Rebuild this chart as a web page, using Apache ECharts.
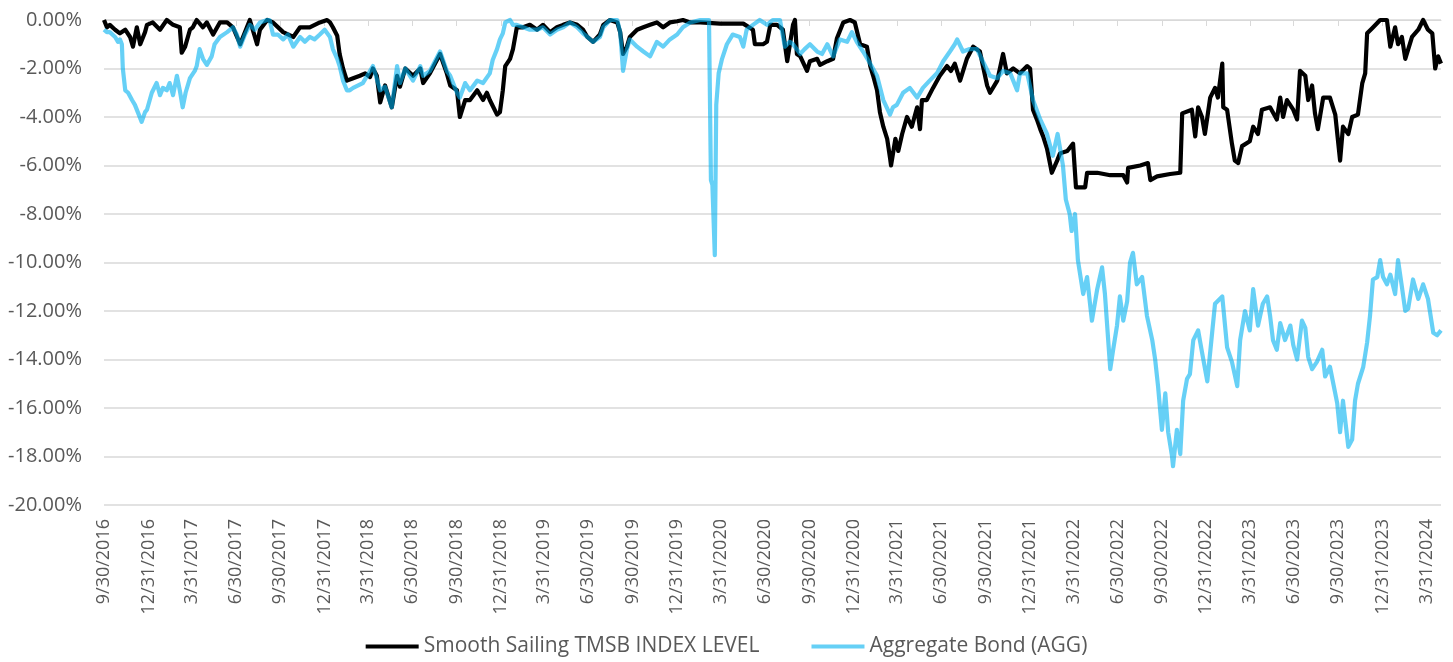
<!DOCTYPE html>
<html>
<head>
<meta charset="utf-8">
<script src="https://cdn.jsdelivr.net/npm/echarts@6/dist/echarts.min.js"></script>
<style>
html,body{margin:0;padding:0;background:#ffffff;}
#chart{width:1453px;height:662px;}
</style>
</head>
<body>
<div id="chart"></div>
<script>
// ---------------- DATA ----------------
const seriesNames = ['Smooth Sailing TMSB INDEX LEVEL', 'Aggregate Bond (AGG)'];

const quarterLabels = [
  '9/30/2016','12/31/2016','3/31/2017','6/30/2017','9/30/2017','12/31/2017',
  '3/31/2018','6/30/2018','9/30/2018','12/31/2018','3/31/2019','6/30/2019',
  '9/30/2019','12/31/2019','3/31/2020','6/30/2020','9/30/2020','12/31/2020',
  '3/31/2021','6/30/2021','9/30/2021','12/31/2021','3/31/2022','6/30/2022',
  '9/30/2022','12/31/2022','3/31/2023','6/30/2023','9/30/2023','12/31/2023',
  '3/31/2024'
];

const axisStart = '9/30/2016';
const axisEnd = '4/30/2024';

// drawdown in percent
const tmsbPoints = [
  ['2016-09-30',0.0],['2016-10-06',-0.3],['2016-10-12',-0.2],['2016-10-23',-0.4],['2016-11-02',-0.55],
  ['2016-11-13',-0.4],['2016-11-23',-0.7],['2016-11-29',-1.1],['2016-12-07',-0.3],['2016-12-14',-1.0],
  ['2016-12-24',-0.5],['2016-12-28',-0.2],['2017-01-09',-0.1],['2017-01-24',-0.4],['2017-02-07',0.0],
  ['2017-02-20',-0.2],['2017-03-06',-0.3],['2017-03-10',-1.35],['2017-03-17',-1.1],['2017-03-27',-0.4],
  ['2017-04-02',-0.3],['2017-04-10',0.0],['2017-04-23',-0.3],['2017-05-01',-0.1],['2017-05-14',-0.6],
  ['2017-05-28',-0.1],['2017-06-12',-0.1],['2017-06-24',-0.3],['2017-07-09',-1.0],['2017-07-23',-0.3],
  ['2017-07-29',0.0],['2017-08-13',-1.0],['2017-08-19',-0.4],['2017-09-03',0.0],['2017-09-15',-0.1],
  ['2017-10-06',-0.5],['2017-10-27',-0.7],['2017-11-10',-0.3],['2017-11-30',-0.3],['2017-12-21',-0.1],
  ['2018-01-05',0.0],['2018-01-11',-0.1],['2018-01-17',-0.3],['2018-01-26',-0.65],['2018-01-31',-1.4],
  ['2018-02-07',-2.0],['2018-02-15',-2.5],['2018-02-28',-2.4],['2018-03-14',-2.3],['2018-03-25',-2.2],
  ['2018-04-04',-2.35],['2018-04-10',-2.0],['2018-04-18',-2.3],['2018-04-25',-3.4],['2018-05-05',-2.7],
  ['2018-05-19',-3.6],['2018-05-30',-2.3],['2018-06-05',-2.75],['2018-06-16',-2.0],['2018-07-02',-2.3],
  ['2018-07-17',-2.0],['2018-07-23',-2.6],['2018-08-06',-2.2],['2018-08-27',-1.4],['2018-09-10',-2.2],
  ['2018-09-17',-2.7],['2018-10-01',-2.9],['2018-10-07',-4.0],['2018-10-18',-3.3],['2018-10-28',-3.3],
  ['2018-11-12',-2.9],['2018-11-24',-3.3],['2018-12-02',-3.0],['2018-12-08',-3.3],['2018-12-23',-3.9],
  ['2018-12-29',-3.8],['2019-01-04',-2.9],['2019-01-09',-1.9],['2019-01-19',-1.6],['2019-01-25',-1.2],
  ['2019-02-02',-0.3],['2019-02-15',-0.3],['2019-03-01',-0.2],['2019-03-16',-0.4],['2019-03-28',-0.2],
  ['2019-04-12',-0.5],['2019-04-26',-0.3],['2019-05-09',-0.2],['2019-05-23',-0.1],['2019-06-07',-0.2],
  ['2019-06-19',-0.4],['2019-06-28',-0.7],['2019-07-10',-0.9],['2019-07-24',-0.6],['2019-07-31',-0.2],
  ['2019-08-14',0.0],['2019-08-29',-0.1],['2019-09-04',-0.5],['2019-09-10',-1.4],['2019-09-18',-1.1],
  ['2019-09-24',-0.7],['2019-10-09',-0.4],['2019-10-22',-0.3],['2019-11-05',-0.2],['2019-11-19',-0.1],
  ['2019-12-02',-0.3],['2019-12-16',-0.1],['2019-12-31',-0.05],['2020-01-12',0.0],['2020-01-27',-0.1],
  ['2020-02-17',-0.1],['2020-03-29',-0.15],['2020-05-16',-0.15],['2020-06-05',-0.4],['2020-06-09',-1.0],
  ['2020-06-26',-1.0],['2020-07-04',-0.9],['2020-07-11',-0.2],['2020-07-25',-0.2],['2020-08-06',-0.4],
  ['2020-08-15',-1.7],['2020-08-27',-0.2],['2020-08-31',0.0],['2020-09-04',-1.4],['2020-09-11',-1.5],
  ['2020-09-25',-2.1],['2020-10-01',-1.7],['2020-10-16',-1.6],['2020-10-22',-1.85],['2020-11-06',-1.7],
  ['2020-11-18',-1.6],['2020-11-26',-0.75],['2020-12-09',-0.1],['2020-12-23',0.0],['2021-01-02',-0.1],
  ['2021-01-13',-1.0],['2021-01-27',-1.1],['2021-02-03',-1.9],['2021-02-09',-2.3],['2021-02-17',-2.9],
  ['2021-02-23',-3.8],['2021-03-02',-4.4],['2021-03-10',-4.9],['2021-03-16',-5.7],['2021-03-18',-6.0],
  ['2021-03-27',-4.9],['2021-04-02',-5.4],['2021-04-10',-4.7],['2021-04-20',-4.0],['2021-04-30',-4.4],
  ['2021-05-11',-3.6],['2021-05-17',-4.5],['2021-05-21',-3.3],['2021-05-31',-3.3],['2021-06-13',-2.8],
  ['2021-06-27',-2.3],['2021-07-12',-1.9],['2021-07-20',-2.1],['2021-07-28',-1.8],['2021-08-08',-2.5],
  ['2021-08-22',-1.6],['2021-09-04',-1.1],['2021-09-18',-1.3],['2021-10-03',-2.7],['2021-10-09',-3.0],
  ['2021-10-24',-2.5],['2021-11-05',-1.4],['2021-11-13',-2.2],['2021-11-26',-2.0],['2021-12-10',-2.2],
  ['2021-12-25',-1.9],['2021-12-31',-2.0],['2022-01-06',-3.7],['2022-01-14',-4.1],['2022-01-21',-4.5],
  ['2022-01-27',-4.8],['2022-02-04',-5.3],['2022-02-14',-6.3],['2022-02-25',-5.8],['2022-03-03',-5.5],
  ['2022-03-18',-5.4],['2022-03-30',-5.1],['2022-04-05',-6.9],['2022-04-24',-6.9],['2022-04-28',-6.3],
  ['2022-05-19',-6.3],['2022-06-15',-6.4],['2022-07-12',-6.4],['2022-07-20',-6.7],['2022-07-22',-6.1],
  ['2022-08-16',-6.0],['2022-09-01',-5.9],['2022-09-06',-6.6],['2022-09-20',-6.45],['2022-10-17',-6.35],
  ['2022-11-07',-6.3],['2022-11-11',-3.85],['2022-12-01',-3.7],['2022-12-08',-4.8],['2022-12-14',-3.6],
  ['2022-12-22',-4.0],['2022-12-28',-4.7],['2023-01-08',-3.2],['2023-01-18',-2.8],['2023-01-24',-3.2],
  ['2023-02-02',-1.8],['2023-02-04',-3.6],['2023-02-12',-3.7],['2023-02-22',-5.1],['2023-02-28',-5.8],
  ['2023-03-07',-5.9],['2023-03-15',-5.2],['2023-03-31',-5.0],['2023-04-07',-4.4],['2023-04-17',-4.7],
  ['2023-04-25',-3.7],['2023-05-12',-3.6],['2023-05-26',-4.1],['2023-06-02',-3.2],['2023-06-08',-4.0],
  ['2023-06-16',-3.3],['2023-06-29',-3.7],['2023-07-07',-4.1],['2023-07-13',-2.1],['2023-07-24',-2.3],
  ['2023-07-30',-3.3],['2023-08-07',-2.7],['2023-08-13',-3.85],['2023-08-19',-4.5],['2023-08-30',-3.2],
  ['2023-09-13',-3.2],['2023-09-24',-3.9],['2023-10-04',-5.8],['2023-10-10',-4.4],['2023-10-21',-4.7],
  ['2023-10-29',-4.0],['2023-11-10',-3.9],['2023-11-19',-2.6],['2023-11-25',-2.2],['2023-11-29',-0.55],
  ['2023-12-09',-0.35],['2023-12-26',0.0],['2024-01-09',0.0],['2024-01-16',-1.1],['2024-01-26',-0.3],
  ['2024-02-01',-1.0],['2024-02-09',-0.7],['2024-02-16',-1.6],['2024-03-01',-0.7],['2024-03-14',-0.4],
  ['2024-03-24',0.0],['2024-04-03',-0.4],['2024-04-12',-0.55],['2024-04-18',-2.0],['2024-04-24',-1.5],
  ['2024-04-30',-1.8]
];

const aggPoints = [
  ['2016-09-30',-0.4],['2016-10-06',-0.5],['2016-10-12',-0.5],['2016-10-23',-0.7],['2016-10-29',-0.9],
  ['2016-11-02',-0.8],['2016-11-06',-1.0],['2016-11-08',-2.0],['2016-11-13',-2.9],['2016-11-19',-3.0],
  ['2016-11-27',-3.3],['2016-12-03',-3.5],['2016-12-09',-3.8],['2016-12-17',-4.2],['2016-12-24',-3.8],
  ['2016-12-28',-3.7],['2017-01-07',-3.0],['2017-01-17',-2.6],['2017-01-24',-3.1],['2017-01-30',-2.8],
  ['2017-02-07',-2.9],['2017-02-13',-2.6],['2017-02-20',-3.1],['2017-02-28',-2.3],['2017-03-06',-2.9],
  ['2017-03-12',-3.6],['2017-03-18',-3.0],['2017-03-27',-2.4],['2017-04-06',-2.1],['2017-04-10',-1.9],
  ['2017-04-16',-1.2],['2017-04-23',-1.6],['2017-05-01',-1.85],['2017-05-11',-1.5],['2017-05-17',-1.0],
  ['2017-05-28',-0.7],['2017-06-12',-0.5],['2017-06-24',-0.3],['2017-07-02',-0.6],['2017-07-09',-1.1],
  ['2017-07-19',-0.6],['2017-07-29',-0.2],['2017-08-08',-0.4],['2017-08-19',-0.1],['2017-09-03',0.0],
  ['2017-09-08',0.0],['2017-09-15',-0.6],['2017-09-25',-0.6],['2017-10-06',-0.8],['2017-10-16',-0.6],
  ['2017-10-27',-1.1],['2017-11-10',-0.7],['2017-11-20',-0.9],['2017-11-30',-0.7],['2017-12-10',-0.8],
  ['2017-12-21',-0.6],['2017-12-31',-0.4],['2018-01-11',-0.7],['2018-01-17',-1.2],['2018-01-26',-1.6],
  ['2018-01-31',-1.9],['2018-02-07',-2.5],['2018-02-15',-2.9],['2018-02-21',-2.9],['2018-02-28',-2.8],
  ['2018-03-20',-2.6],['2018-04-10',-1.9],['2018-04-25',-2.9],['2018-05-05',-2.75],['2018-05-19',-3.6],
  ['2018-05-30',-1.9],['2018-06-05',-2.6],['2018-06-16',-2.0],['2018-07-02',-2.5],['2018-07-17',-1.9],
  ['2018-07-23',-2.3],['2018-08-06',-2.1],['2018-08-27',-1.3],['2018-09-10',-2.1],['2018-09-17',-2.3],
  ['2018-10-01',-3.0],['2018-10-07',-3.2],['2018-10-18',-2.6],['2018-10-28',-2.9],['2018-11-12',-2.5],
  ['2018-11-24',-2.6],['2018-12-08',-2.2],['2018-12-14',-1.65],['2018-12-23',-1.2],['2018-12-29',-0.8],
  ['2019-01-04',-0.55],['2019-01-09',-0.1],['2019-01-19',0.0],['2019-01-25',-0.2],['2019-02-02',-0.2],
  ['2019-02-15',-0.3],['2019-03-01',-0.4],['2019-03-16',-0.4],['2019-03-28',-0.3],['2019-04-12',-0.6],
  ['2019-04-26',-0.4],['2019-05-09',-0.3],['2019-05-23',-0.1],['2019-06-07',-0.3],['2019-06-19',-0.55],
  ['2019-06-28',-0.7],['2019-07-10',-0.9],['2019-07-24',-0.7],['2019-07-31',-0.3],['2019-08-14',0.0],
  ['2019-08-29',0.0],['2019-09-04',-0.5],['2019-09-10',-2.1],['2019-09-18',-1.2],['2019-09-24',-0.8],
  ['2019-10-09',-1.1],['2019-10-22',-1.3],['2019-11-05',-1.5],['2019-11-19',-0.9],['2019-12-02',-1.1],
  ['2019-12-16',-0.8],['2019-12-31',-0.6],['2020-01-12',-0.3],['2020-01-27',-0.1],['2020-02-17',0.0],
  ['2020-03-06',0.0],['2020-03-10',-6.6],['2020-03-13',-6.8],['2020-03-18',-9.7],['2020-03-21',-3.5],
  ['2020-03-26',-2.2],['2020-04-02',-1.6],['2020-04-12',-1.0],['2020-04-24',-0.6],['2020-05-09',-0.7],
  ['2020-05-16',-1.1],['2020-05-23',-0.4],['2020-06-05',-0.2],['2020-06-19',0.0],['2020-07-04',-0.2],
  ['2020-07-16',0.0],['2020-07-31',0.0],['2020-08-10',-1.1],['2020-08-20',-0.9],['2020-08-27',-1.0],
  ['2020-09-11',-1.4],['2020-09-20',-1.2],['2020-10-01',-1.0],['2020-10-16',-1.3],['2020-10-26',-1.4],
  ['2020-11-06',-1.0],['2020-11-18',-1.5],['2020-12-02',-0.8],['2020-12-17',-0.9],['2020-12-27',-0.5],
  ['2021-01-06',-0.9],['2021-01-19',-1.3],['2021-02-03',-1.8],['2021-02-17',-2.3],['2021-03-02',-3.3],
  ['2021-03-16',-3.9],['2021-03-22',-3.6],['2021-03-30',-3.5],['2021-04-12',-3.0],['2021-04-26',-2.8],
  ['2021-05-11',-3.2],['2021-05-23',-2.8],['2021-06-06',-2.5],['2021-06-21',-2.2],['2021-07-04',-1.7],
  ['2021-07-18',-1.3],['2021-07-28',-1.0],['2021-08-02',-0.8],['2021-08-14',-1.3],['2021-08-28',-1.2],
  ['2021-09-12',-1.2],['2021-09-24',-1.7],['2021-10-09',-2.3],['2021-10-24',-2.4],['2021-11-05',-2.1],
  ['2021-11-20',-2.2],['2021-12-04',-2.9],['2021-12-10',-2.2],['2021-12-25',-2.2],['2022-01-06',-3.3],
  ['2022-01-21',-4.1],['2022-02-04',-4.7],['2022-02-16',-5.6],['2022-02-26',-4.7],['2022-03-09',-6.0],
  ['2022-03-15',-7.4],['2022-03-23',-8.0],['2022-03-27',-8.7],['2022-04-03',-8.0],['2022-04-09',-9.9],
  ['2022-04-20',-11.3],['2022-04-28',-10.6],['2022-05-08',-12.4],['2022-05-19',-11.1],['2022-05-29',-10.2],
  ['2022-06-04',-11.3],['2022-06-15',-14.4],['2022-06-21',-13.6],['2022-06-29',-12.6],['2022-07-05',-11.4],
  ['2022-07-12',-12.4],['2022-07-20',-11.6],['2022-07-26',-10.0],['2022-08-01',-9.6],['2022-08-09',-10.9],
  ['2022-08-20',-10.6],['2022-08-30',-12.2],['2022-09-10',-13.2],['2022-09-16',-14.0],['2022-09-22',-15.1],
  ['2022-09-30',-16.9],['2022-10-07',-15.4],['2022-10-13',-17.0],['2022-10-21',-18.0],['2022-10-23',-18.4],
  ['2022-10-31',-16.9],['2022-11-07',-17.9],['2022-11-13',-15.7],['2022-11-21',-14.8],['2022-11-27',-14.6],
  ['2022-12-04',-13.2],['2022-12-14',-12.8],['2022-12-22',-13.7],['2023-01-02',-14.9],['2023-01-12',-12.9],
  ['2023-01-18',-11.7],['2023-02-02',-11.4],['2023-02-12',-13.5],['2023-02-22',-14.1],['2023-03-05',-15.1],
  ['2023-03-11',-13.2],['2023-03-21',-12.0],['2023-03-31',-12.8],['2023-04-07',-11.1],['2023-04-17',-12.6],
  ['2023-04-27',-11.7],['2023-05-06',-11.4],['2023-05-12',-12.2],['2023-05-18',-13.2],['2023-05-26',-13.6],
  ['2023-06-02',-12.5],['2023-06-12',-13.2],['2023-06-23',-12.6],['2023-06-29',-13.4],['2023-07-07',-14.0],
  ['2023-07-17',-12.4],['2023-07-24',-12.7],['2023-07-30',-13.9],['2023-08-07',-14.4],['2023-08-17',-14.1],
  ['2023-08-28',-13.6],['2023-09-03',-14.7],['2023-09-13',-14.3],['2023-09-20',-15.0],['2023-09-28',-15.8],
  ['2023-10-04',-17.0],['2023-10-10',-15.7],['2023-10-21',-17.6],['2023-10-29',-17.3],['2023-11-04',-15.7],
  ['2023-11-10',-15.0],['2023-11-21',-14.3],['2023-11-29',-13.3],['2023-12-05',-12.2],['2023-12-11',-10.7],
  ['2023-12-20',-10.6],['2023-12-26',-9.9],['2024-01-01',-10.6],['2024-01-09',-10.9],['2024-01-16',-10.5],
  ['2024-01-26',-11.3],['2024-02-01',-9.9],['2024-02-09',-11.0],['2024-02-16',-12.0],['2024-02-22',-11.9],
  ['2024-03-03',-10.7],['2024-03-14',-11.5],['2024-03-24',-10.9],['2024-04-03',-11.5],['2024-04-14',-12.9],
  ['2024-04-22',-13.0],['2024-04-30',-12.8]
];

const yMin = -20, yMax = 0, yStep = 2;

// ---------------- CHART ----------------
function parseMDY(s) {
  const p = s.split('/').map(Number);
  return new Date(p[2], p[0] - 1, p[1]).getTime();
}
function parseISO(s) {
  const p = s.split('-').map(Number);
  return new Date(p[0], p[1] - 1, p[2]).getTime();
}
function fmtMDY(t) {
  const d = new Date(t);
  return (d.getMonth() + 1) + '/' + d.getDate() + '/' + d.getFullYear();
}
const quarterTimes = quarterLabels.map(parseMDY);
const xMin = parseMDY(axisStart), xMax = parseMDY(axisEnd);
const toXY = pts => pts.map(p => [parseISO(p[0]), p[1]]);

const FONT = 'Open Sans';
const GREY = '#595959';
const GRID = '#d9d9d9';

const chart = echarts.init(document.getElementById('chart'), null, { renderer: 'canvas' });
chart.setOption({
  backgroundColor: '#ffffff',
  animation: false,
  grid: { left: 104, right: 12, top: 20, bottom: 157, containLabel: false },
  legend: {
    data: seriesNames,
    bottom: 0,
    left: 'center',
    icon: 'rect',
    itemWidth: 53,
    itemHeight: 4,
    itemGap: 52,
    textStyle: { color: GREY, fontSize: 21, fontFamily: FONT }
  },
  xAxis: [
    {
      type: 'value',
      position: 'bottom',
      min: xMin,
      max: xMax,
      axisLine: { show: false },
      axisTick: { show: false },
      splitLine: { show: false },
      axisLabel: {
        customValues: quarterTimes,
        rotate: 90,
        margin: 14,
        color: GREY,
        fontSize: 18,
        fontFamily: FONT,
        showMinLabel: true,
        showMaxLabel: true,
        formatter: function (v) { return fmtMDY(v); }
      }
    },
    {
      type: 'value',
      position: 'top',
      min: xMin,
      max: xMax,
      axisLine: { show: true, onZero: false, lineStyle: { color: GRID, width: 1 } },
      axisTick: { show: true, inside: true, length: 6, customValues: quarterTimes, lineStyle: { color: GRID, width: 1 } },
      axisLabel: { show: false },
      splitLine: { show: false }
    }
  ],
  yAxis: {
    type: 'value',
    min: yMin,
    max: yMax,
    interval: yStep,
    axisLine: { show: false },
    axisTick: { show: false },
    splitLine: { show: true, lineStyle: { color: GRID, width: 1.5 } },
    axisLabel: {
      color: GREY,
      fontSize: 20,
      fontFamily: FONT,
      margin: 22,
      formatter: function (v) { return v.toFixed(2) + '%'; }
    }
  },
  series: [
    {
      name: seriesNames[0],
      type: 'line',
      xAxisIndex: 0,
      data: toXY(tmsbPoints),
      showSymbol: false,
      symbol: 'none',
      lineStyle: { color: '#000000', width: 4.2, join: 'round' },
      itemStyle: { color: '#000000' },
      clip: false,
      z: 2
    },
    {
      name: seriesNames[1],
      type: 'line',
      xAxisIndex: 0,
      data: toXY(aggPoints),
      showSymbol: false,
      symbol: 'none',
      lineStyle: { color: 'rgba(0,176,240,0.6)', width: 4.2, join: 'round' },
      itemStyle: { color: 'rgba(0,176,240,0.6)' },
      clip: false,
      z: 3
    }
  ]
});
</script>
</body>
</html>
